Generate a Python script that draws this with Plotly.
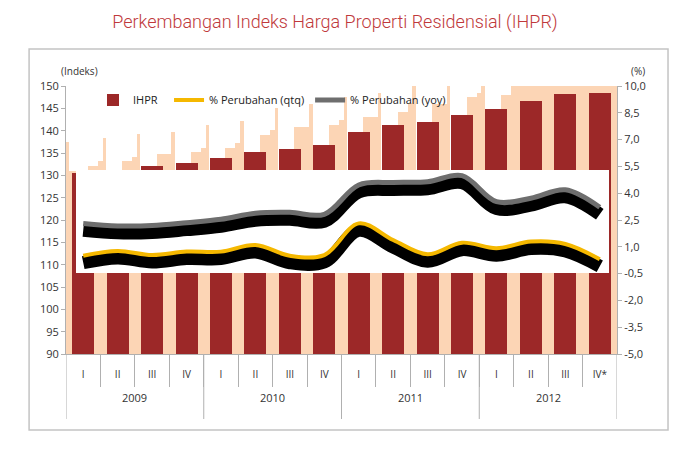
import plotly.graph_objects as go

# data
years = ["2009", "2010", "2011", "2012"]
quarters = ["I", "II", "III", "IV"] * 3 + ["I", "II", "III", "IV*"]

ihpr = [130.5, 131.3, 132.0, 132.8, 133.9, 135.2, 135.9, 136.7,
        139.7, 141.3, 141.9, 143.6, 144.8, 146.6, 148.1, 148.4]
qtq = [0.50, 0.77, 0.54, 0.73, 0.73, 1.10, 0.50, 0.54,
       2.31, 1.38, 0.58, 1.23, 0.92, 1.29, 1.16, 0.30]
yoy = [2.31, 2.17, 2.19, 2.35, 2.54, 2.88, 2.93, 2.82,
       4.46, 4.60, 4.64, 4.98, 3.53, 3.72, 4.19, 3.21]

# peach staircase behind the bars (rendering artefact of the original)
peach_fill = [131] * 13 + [150] * 3
peach_step1 = [132.1, 133.2, 134.8, 135.3, 136.2, 139.0, 140.9, 141.3,
               143.1, 144.1, 146.0, 147.5, 148.0, 150, 150, 150]
peach_step2 = [133.2, 134.2, 134.8, 136.2, 137.2, 140.2, 140.9, 142.4,
               143.1, 146.1, 146.0, 148.4, 150, 150, 150, 150]
peach_spike = [138.4, 139.3, 139.8, 141.3, 142.2, 145.0, 146.0, 147.6,
               148.4, 150, 150, 150, 150, 150, 150, 150]
left_spike = [137.5]

# white panel that hides the middle of the bars
panel_low, panel_high = 108.2, 131.2

left_ticks = list(range(90, 151, 5))
right_vals = [-5.0, -3.5, -2.0, -0.5, 1.0, 2.5, 4.0, 5.5, 7.0, 8.5, 10.0]
right_text = ["-5,0", "-3,5", "-2,0", "-0,5", "1,0", "2,5", "4,0", "5,5", "7,0", "8,5", "10,0"]

pos = list(range(len(quarters)))
peach = "#FCD5B5"
red = "#9C2828"
grey = "#B0B0B0"
font = "Open Sans"

fig = go.Figure()

# peach background bars
fig.add_trace(go.Bar(x=pos, y=peach_fill, width=1.0, marker_color=peach,
                     marker_line_width=0, showlegend=False, hoverinfo="skip"))
fig.add_trace(go.Bar(x=pos, y=peach_step1, offset=0.13, width=0.29, marker_color=peach,
                     marker_line_width=0, showlegend=False, hoverinfo="skip"))
fig.add_trace(go.Bar(x=pos, y=peach_step2, offset=0.42, width=0.14, marker_color=peach,
                     marker_line_width=0, showlegend=False, hoverinfo="skip"))
fig.add_trace(go.Bar(x=pos, y=peach_spike, offset=0.56, width=0.10, marker_color=peach,
                     marker_line_width=0, showlegend=False, hoverinfo="skip"))
fig.add_trace(go.Bar(x=pos[:1], y=left_spike, offset=-0.5, width=0.1,
                     marker_color=peach, marker_line_width=0, showlegend=False, hoverinfo="skip"))

# IHPR bars
fig.add_trace(go.Bar(x=pos, y=ihpr, width=0.64, name="IHPR", marker_color=red,
                     marker_line_width=0, legend="legend"))

# white panel
fig.add_trace(go.Bar(x=pos[:1], y=[panel_high - panel_low], base=[panel_low],
                     offset=-0.22, width=15.5, marker_color="white", marker_line_width=0,
                     showlegend=False, hoverinfo="skip"))

# black shadows (y2 is shifted a little so they sit under the lines)
for vals in (yoy, qtq):
    fig.add_trace(go.Scatter(x=pos, y=vals, yaxis="y2", mode="lines",
                             line=dict(color="black", width=13, shape="spline", smoothing=1),
                             showlegend=False, hoverinfo="skip"))

fig.add_trace(go.Scatter(x=pos, y=qtq, yaxis="y3", mode="lines", name="% Perubahan (qtq)",
                         line=dict(color="#F5B800", width=4, shape="spline", smoothing=1),
                         legend="legend2"))
fig.add_trace(go.Scatter(x=pos, y=yoy, yaxis="y3", mode="lines", name="% Perubahan (yoy)",
                         line=dict(color="#6E6E6E", width=5, shape="spline", smoothing=1),
                         legend="legend3"))

# year labels and year dividers under the quarter labels
n_q = 4
year_mid = [i * n_q + (n_q - 1) / 2 for i in range(len(years))]
year_edges = [i * n_q - 0.5 for i in range(len(years) + 1)]
annotations = [dict(text=yr, x=xm, y=-0.198, xref="x", yref="paper", showarrow=False,
                    font=dict(size=11, color="#333"))
               for yr, xm in zip(years, year_mid)]
shapes = [dict(type="line", x0=xe, x1=xe, xref="x", y0=0, y1=-0.2425, yref="paper",
               line=dict(color=grey, width=1))
          for xe in year_edges]

annotations += [
    dict(text="(Indeks)", x=-0.0127, y=1.0896, xref="paper", yref="paper",
         showarrow=False, font=dict(size=10, color="#333")),
    dict(text="(%)", x=1.0545, y=1.0896, xref="paper", yref="paper",
         showarrow=False, font=dict(size=10, color="#333")),
]
shapes.append(dict(type="rect", xref="paper", yref="paper", x0=-0.067, x1=1.0926,
                   y0=-0.2836, y1=1.138, line=dict(color="#C4C4C4", width=1.5)))

shift = 0.39
leg = dict(yanchor="middle", xanchor="left", y=0.948, bgcolor="rgba(0,0,0,0)",
           font=dict(family=font, size=11, color="#222"))

fig.update_layout(
    width=692, height=454,
    margin=dict(l=58, r=83, t=78, b=108),
    paper_bgcolor="white", plot_bgcolor="white",
    barmode="overlay", bargap=0,
    font=dict(family=font, size=11, color="#333"),
    title=dict(text="Perkembangan Indeks Harga Properti Residensial (IHPR)",
               x=0.4725, xanchor="center", y=0.969, yanchor="middle",
               font=dict(family="Roboto", weight=300, size=18, color="#C0393B")),
    xaxis=dict(range=[-0.5, 15.5], tickvals=pos, ticktext=quarters, showline=True,
               linecolor=grey, ticks="outside", ticklen=11, tickcolor="rgba(0,0,0,0)",
               minor=dict(tickvals=[p + 0.5 for p in pos[:-1]], ticks="outside",
                          ticklen=32, tickcolor=grey),
               tickfont=dict(size=10, color="#333"), showgrid=False, zeroline=False),
    yaxis=dict(range=[90, 150], tickvals=left_ticks, showline=True, linecolor=grey,
               ticks="outside", ticklen=4, tickcolor=grey, showgrid=False, zeroline=False),
    yaxis2=dict(range=[-5 + shift, 10 + shift], overlaying="y", visible=False),
    yaxis3=dict(range=[-5, 10], overlaying="y", side="right", tickvals=right_vals,
                ticktext=right_text, showline=True, linecolor=grey, ticks="outside",
                ticklen=4, tickcolor=grey, showgrid=False, zeroline=False),
    legend=dict(x=0.049, **leg),
    legend2=dict(x=0.187, **leg),
    legend3=dict(x=0.443, **leg),
    annotations=annotations,
    shapes=shapes,
)

fig.write_html("out.html")
